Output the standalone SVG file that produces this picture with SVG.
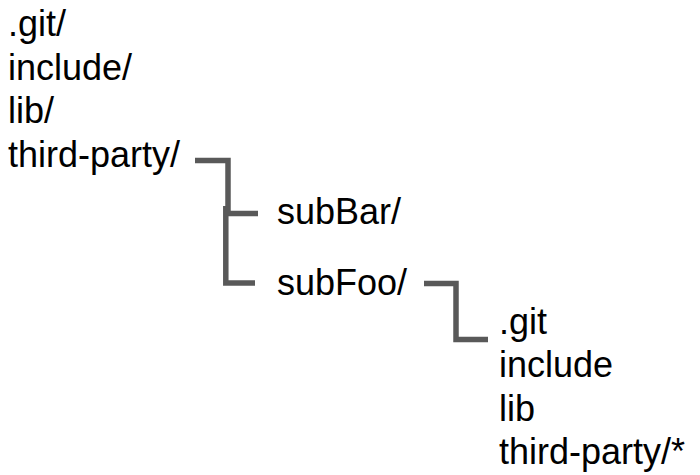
<svg xmlns="http://www.w3.org/2000/svg" width="700" height="475" viewBox="0 0 700 475">
<style>
text{font-family:"Liberation Sans",Arial,sans-serif;font-size:36px;fill:#000}
.c{fill:none;stroke:#595959;stroke-width:5.5;stroke-linecap:butt;stroke-linejoin:miter}
</style>
<rect width="700" height="475" fill="#fff"/>
<g id="root">
<text x="8" y="36">.git/</text>
<text x="8" y="79.5">include/</text>
<text x="8" y="123">lib/</text>
<text x="8" y="166.5">third-party/</text>
</g>
<g id="subBar"><text x="277" y="224">subBar/</text></g>
<g id="subFoo"><text x="277" y="295">subFoo/</text></g>
<g id="subFooContents">
<text x="499" y="334">.git</text>
<text x="499" y="377">include</text>
<text x="499" y="420.5">lib</text>
<text x="499" y="464">third-party/*</text>
</g>
<g id="connectors">
<path class="c" d="M195,160.5 H228 V213.5 H258"/>
<path class="c" d="M225.8,206 V283 H255"/>
<path class="c" d="M424,283.5 H456 V339.5 H488"/>
</g>
</svg>
